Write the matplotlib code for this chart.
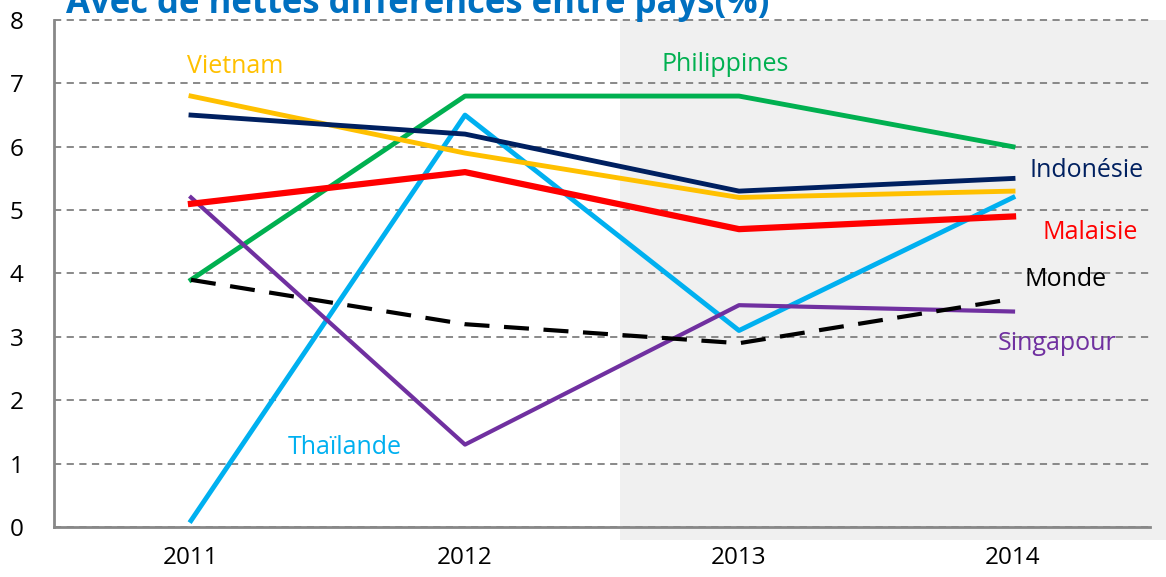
import matplotlib.pyplot as plt
from matplotlib.patches import Rectangle

plt.rcParams['font.family'] = ['Open Sans', 'DejaVu Sans']

years = ['2011', '2012', '2013', '2014']
vietnam = [6.8, 5.9, 5.2, 5.3]
indonesie = [6.5, 6.2, 5.3, 5.5]
malaisie = [5.1, 5.6, 4.7, 4.9]
philippines = [3.9, 6.8, 6.8, 6.0]
thailande = [0.1, 6.5, 3.1, 5.2]
singapour = [5.2, 1.3, 3.5, 3.4]
monde = [3.9, 3.2, 2.9, 3.6]

f = plt.figure(figsize=(11.66, 5.77), dpi=100)
ax = f.add_axes([0.0463, 0.0867, 0.94, 0.8786])
ax.set_facecolor('none')
ax.set_zorder(2)

# grey shaded area (2013-2014), drawn on the figure behind the axes
f.patches.append(Rectangle((620 / 1166, 1 - 540 / 577), 1 - 620 / 1166, (540 - 20) / 577,
                           transform=f.transFigure, facecolor='#f0f0f0', edgecolor='none', zorder=-1))

x = range(len(years))
ax.plot(x, philippines, color='#00b050', lw=3.5, zorder=3)
ax.plot(x, thailande, color='#00b0f0', lw=3.5, zorder=3)
ax.plot(x, singapour, color='#7030a0', lw=3, zorder=3)
ax.plot(x, monde, color='black', lw=3, ls=(0, (6, 3.5)), zorder=3)
ax.plot(x, malaisie, color='#ff0000', lw=4.5, zorder=4)
ax.plot(x, vietnam, color='#ffc000', lw=3.5, zorder=4)
ax.plot(x, indonesie, color='#002060', lw=3.5, zorder=4)

# labels
fs = 18
ax.text(0.16, 7.26, 'Vietnam', color='#ffc000', fontsize=fs, ha='center', va='center')
ax.text(1.95, 7.3, 'Philippines', color='#00b050', fontsize=fs, ha='center', va='center')
ax.text(3.27, 5.63, 'Indonésie', color='#002060', fontsize=fs, ha='center', va='center')
ax.text(3.28, 4.65, 'Malaisie', color='#ff0000', fontsize=fs, ha='center', va='center')
ax.text(3.19, 3.91, 'Monde', color='black', fontsize=fs, ha='center', va='center')
ax.text(3.16, 2.9, 'Singapour', color='#7030a0', fontsize=fs, ha='center', va='center')
ax.text(0.56, 1.26, 'Thaïlande', color='#00b0f0', fontsize=fs, ha='center', va='center')

f.text(66 / 1166, 1 - 13 / 577, 'Avec de nettes différences entre pays(%)', color='#0070c0',
       fontsize=25, fontweight='bold', ha='left', va='baseline')

ax.set_xlim(-0.5, 3.5)
ax.set_ylim(0, 8)
ax.set_xticks(list(x))
ax.set_xticklabels(years, fontsize=17.5)
ax.set_yticks(range(9))
ax.tick_params(axis='y', labelsize=17.5, length=0, pad=22)
ax.tick_params(axis='x', length=0, pad=14)
ax.yaxis.grid(True, color='#808080', ls=(0, (4, 3)), lw=1.3)
for gl in ax.get_ygridlines():
    gl.set_clip_on(False)
ax.set_axisbelow(True)
for s in ['top', 'right']:
    ax.spines[s].set_visible(False)
for s in ['left', 'bottom']:
    ax.spines[s].set_color('#888888')
    ax.spines[s].set_linewidth(2)

f.savefig('out.png')
